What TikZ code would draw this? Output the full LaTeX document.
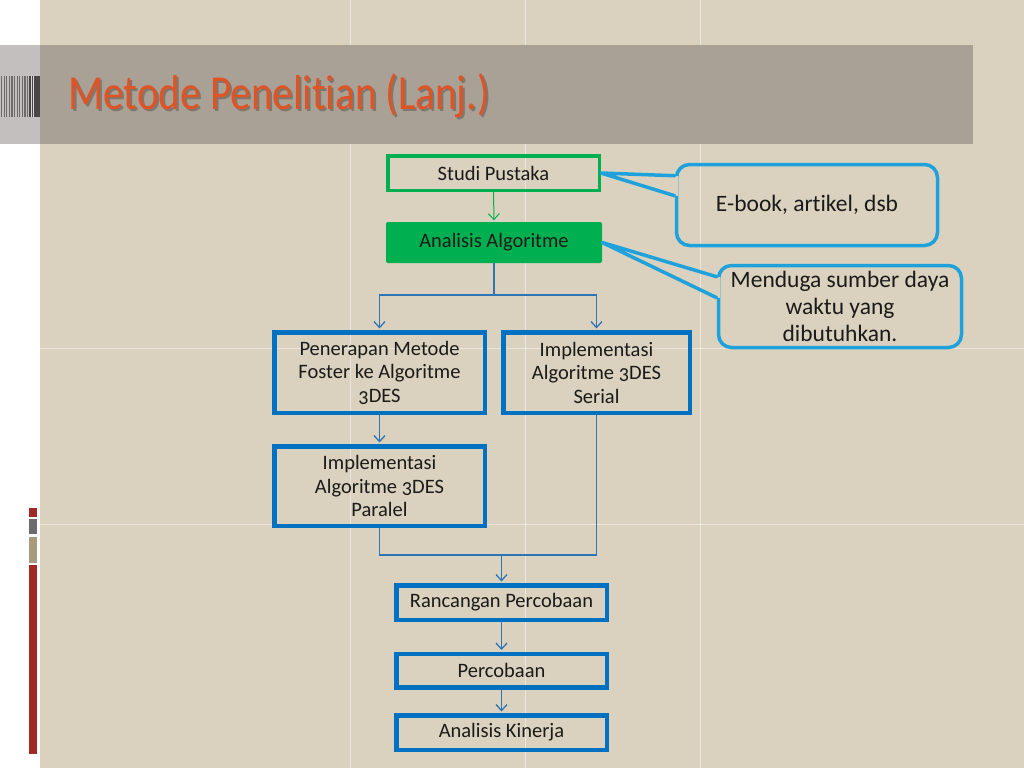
\documentclass[tikz,border=0pt]{standalone}
\usepackage{fontspec}
\setmainfont{Carlito}[Numbers=OldStyle, Ligatures=NoCommon]
\usetikzlibrary{arrows.meta,calc}
\definecolor{bgc}{HTML}{DAD2BE}
\definecolor{band}{HTML}{A9A195}
\definecolor{lgray}{HTML}{C3BFBF}
\definecolor{okgreen}{HTML}{00B050}
\definecolor{boxblue}{HTML}{0070C0}
\definecolor{lineblue}{HTML}{2E75B6}
\definecolor{callblue}{HTML}{1FA2DC}
\definecolor{titlec}{HTML}{DD5426}
\definecolor{decored}{HTML}{A02A26}
\definecolor{decogray}{HTML}{6E6B6E}
\definecolor{decotan}{HTML}{A89A7C}
\definecolor{txt}{HTML}{1A1A1A}
\definecolor{barc}{HTML}{4A4646}
\begin{document}
\begin{tikzpicture}[x=1pt,y=-1pt,
  boxtext/.style={font=\fontsize{20.5}{23.5}\selectfont, text=txt, align=center, inner sep=0pt},
  greenbox/.style={boxtext, draw=okgreen, line width=3.5pt, minimum width=211.5pt, minimum height=34.5pt},
  greenfill/.style={boxtext, fill=okgreen, rounded corners=2pt, minimum width=216pt, minimum height=41pt},
  bluebox/.style={boxtext, draw=boxblue, line width=4.5pt},
  callout/.style={draw=callblue, line width=3.5pt},
  calloutbox/.style={callout, rounded corners=13pt, font=\fontsize{23.5}{27}\selectfont, text=txt, align=center, inner sep=0pt},
  conn/.style={draw=lineblue, line width=1.3pt},
  arr/.style={conn, shorten >=1.5pt, -{Straight Barb[length=6pt,width=11pt]}},
  gridl/.style={draw=white, line width=1pt, opacity=0.45},
  titlefont/.style={font=\fontsize{49}{50}\selectfont}
]
\useasboundingbox (0,0) rectangle (1024,768);
% background
\fill[white] (0,0) rectangle (1024,768);
\fill[bgc] (40,0) rectangle (1024,768);
\foreach \gx in {350,525,700} \draw[gridl] (\gx,0) -- (\gx,768);
\foreach \gy in {348,524} \draw[gridl] (40,\gy) -- (1024,\gy);
% title band
\fill[band] (40,45) rectangle (973,144);
\fill[lgray] (0,45) rectangle (40,144);
\foreach \bx in {1,3.6,6.2,8.8,11.4,14,16.6,19.2,21.8,24.4,27} \fill[barc!80] (\bx,76) rectangle ++(1.2,41);
\fill[barc] (29,76) rectangle (40,117);
\foreach \bx in {30.5,33} \fill[lgray!60] (\bx,76) rectangle ++(0.7,41);
\node[titlefont, anchor=base west, text=black, opacity=0.25, inner sep=0pt] at (70,111) {\scalebox{0.84}[1]{Metode Penelitian (Lanj.)}};
\node[titlefont, anchor=base west, text=titlec, inner sep=0pt] (title) at (68,109) {\scalebox{0.84}[1]{Metode Penelitian (Lanj.)}};
% left decoration
\fill[decored] (29,508) rectangle (37,517);
\fill[decogray] (29,519) rectangle (37,534);
\fill[decotan] (29,537) rectangle (37,563);
\fill[decored] (29,565) rectangle (37,754);
% nodes
\node[greenbox] (studi) at (493.5,173) {Studi Pustaka};
\node[greenfill] (ana) at (494,242.5) {Analisis Algoritme};
\node[bluebox, minimum width=210.5pt, minimum height=80.5pt] (pen) at (379.5,372.5) {Penerapan Metode\\Foster ke Algoritme\\3DES};
\node[bluebox, minimum width=186.5pt, minimum height=80.5pt] (ser) at (596.5,372.5) {Implementasi\\Algoritme 3DES\\Serial};
\node[bluebox, minimum width=210.5pt, minimum height=79.5pt] (par) at (379.5,486) {Implementasi\\Algoritme 3DES\\Paralel};
\node[bluebox, minimum width=210.5pt, minimum height=34.5pt] (ran) at (501.5,602.5) {Rancangan Percobaan};
\node[bluebox, minimum width=210.5pt, minimum height=33.5pt] (per) at (501.5,670.5) {Percobaan};
\node[bluebox, minimum width=210.5pt, minimum height=34.5pt] (kin) at (501.5,732.5) {Analisis Kinerja};
% callouts
\node[calloutbox, minimum width=261pt, minimum height=81pt] (c1) at (807,205) {E-book, artikel, dsb};
\node[calloutbox, minimum width=243pt, minimum height=82pt] (c2) at (840,306.5) {Menduga sumber daya\\waktu yang\\dibutuhkan.};
\coordinate (c1a) at ($(c1.north west)+(0,13)$);
\coordinate (c1b) at ($(c1.north west)+(0,33)$);
\fill[bgc] ($(c1a)+(-3,0)$) rectangle ($(c1b)+(3,0)$);
\draw[callout, line join=round, line cap=round] (c1a) -- (studi.east) -- (c1b);
\coordinate (c2a) at ($(c2.north west)+(0,13)$);
\coordinate (c2b) at ($(c2.north west)+(0,34)$);
\fill[bgc] ($(c2a)+(-3,0)$) rectangle ($(c2b)+(3,0)$);
\draw[callout, line join=round, line cap=round] (c2a) -- (ana.east) -- (c2b);
% connectors
\draw[arr, draw=okgreen, line width=1pt] (studi.south) -- (ana.north);
\coordinate (split) at (494,295);
\draw[conn] (ana.south) -- (split);
\draw[arr] (split) -| (pen.north);
\draw[arr] (split) -| (ser.north);
\draw[arr] (pen.south) -- (par.north);
\coordinate (join) at (501.5,555);
\draw[conn] (par.south) |- (join);
\draw[conn] (ser.south) |- (join);
\draw[arr] (join) -- (ran.north);
\draw[arr] (ran.south) -- (per.north);
\draw[arr] (per.south) -- (kin.north);
\end{tikzpicture}
\end{document}
